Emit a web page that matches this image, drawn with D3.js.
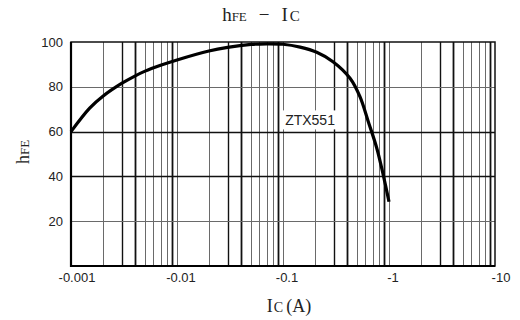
<!doctype html>
<html>
<head>
<meta charset="utf-8">
<style>
  body { margin: 0; background: #fff; }
  svg { display: block; }
</style>
</head>
<body>
<div class="chart"></div>
<script src="https://d3js.org/d3.v7.min.js"></script>
<script>
// curve (Ic in A, magnitude; hFE)
let icValues  = [0.001, 0.0015, 0.002, 0.003, 0.004, 0.005, 0.007, 0.01, 0.02, 0.03, 0.05, 0.07, 0.1, 0.145, 0.208, 0.296, 0.429, 0.532, 0.638, 0.766, 0.883, 1.0];
let hfeValues = [60, 70.5, 75.8, 81.5, 84.8, 87.0, 89.6, 92, 96, 97.6, 98.9, 99.2, 99.0, 97.7, 95.4, 91.2, 83.8, 75.6, 64.4, 52.7, 40.6, 28.7];

let xTicks = [0.001, 0.01, 0.1, 1, 10];
let xTickLabels = ["-0.001", "-0.01", "-0.1", "-1", "-10"];
let yTicks = [20, 40, 60, 80, 100];
let seriesName = "ZTX551";

let width = 520, height = 320;
let pLeft = 71, pRight = 495, pTop = 42, pBottom = 266;

let svg = d3.select(".chart").append("svg")
  .attr("width", width)
  .attr("height", height);

let x = d3.scaleLog().domain([0.001, 10]).range([pLeft, pRight]);
let y = d3.scaleLinear().domain([0, 100]).range([pBottom, pTop]);

// log grid, 1..9 in every decade
let gridX = [];
for (let e = -3; e < 1; e++) {
  for (let m = 2; m <= 9; m++) gridX.push({ v: m * Math.pow(10, e), m: m });
  gridX.push({ v: Math.pow(10, e + 1), m: 10 });
}
gridX = gridX.filter(d => d.v < 10);

svg.append("g").selectAll("line")
  .data(gridX).enter().append("line")
  .attr("x1", d => Math.round(x(d.v)) + 0.5)
  .attr("x2", d => Math.round(x(d.v)) + 0.5)
  .attr("y1", pTop).attr("y2", pBottom)
  .attr("stroke", d => (d.m == 3 || d.m == 4 || d.m == 9) ? "#111" : "#6a6a6a")
  .attr("stroke-width", d => (d.m == 4 || d.m == 9) ? 1.8 : (d.m == 3 ? 1.4 : 1));

svg.append("g").selectAll("line")
  .data(yTicks.filter(v => v < 100)).enter().append("line")
  .attr("x1", pLeft).attr("x2", pRight)
  .attr("y1", d => Math.round(y(d)) + 0.5)
  .attr("y2", d => Math.round(y(d)) + 0.5)
  .attr("stroke", d => (d == 40 || d == 60) ? "#111" : "#6a6a6a")
  .attr("stroke-width", d => (d == 40 || d == 60) ? 1.4 : 1);

// frame
svg.append("rect")
  .attr("x", pLeft).attr("y", pTop)
  .attr("width", pRight - pLeft).attr("height", pBottom - pTop)
  .attr("fill", "none").attr("stroke", "#111").attr("stroke-width", 1.5);
svg.append("line")
  .attr("x1", pLeft).attr("x2", pLeft).attr("y1", pTop).attr("y2", pBottom + 1)
  .attr("stroke", "#000").attr("stroke-width", 2.2);
svg.append("line")
  .attr("x1", pLeft).attr("x2", pRight).attr("y1", pBottom).attr("y2", pBottom)
  .attr("stroke", "#000").attr("stroke-width", 2.2);

// tick labels
let tickFont = "'Liberation Sans', Arial, sans-serif";
svg.append("g").selectAll("text")
  .data(yTicks).enter().append("text")
  .attr("x", pLeft - 8)
  .attr("y", d => y(d) + 4.5)
  .attr("text-anchor", "end")
  .style("font-family", tickFont).style("font-size", "13px").attr("fill", "#222")
  .text(d => d);

svg.append("g").selectAll("text")
  .data(xTicks).enter().append("text")
  .attr("x", (d, i) => x(d) + (i == 0 ? 6 : (i == 4 ? 6 : 4)))
  .attr("y", 282)
  .attr("text-anchor", "middle")
  .style("font-family", tickFont).style("font-size", "13px").attr("fill", "#222")
  .text((d, i) => xTickLabels[i]);

// curve
let line = d3.line()
  .x((d, i) => x(icValues[i]))
  .y(d => y(d))
  .curve(d3.curveCatmullRom.alpha(0.5));

svg.append("path")
  .attr("d", line(hfeValues))
  .attr("fill", "none")
  .attr("stroke", "#000")
  .attr("stroke-width", 3.2)
  .attr("stroke-linecap", "butt");

// series label on white patch
let lx = x(0.18), ly = y(65);
svg.append("rect")
  .attr("x", lx - 30).attr("y", ly - 10)
  .attr("width", 60).attr("height", 19)
  .attr("fill", "#fff");
svg.append("text")
  .attr("x", lx).attr("y", ly + 5)
  .attr("text-anchor", "middle")
  .style("font-family", tickFont).style("font-size", "14px").attr("fill", "#222")
  .text(seriesName);

// titles (serif, small-caps subscripts)
let serif = "'Liberation Serif', 'DejaVu Serif', serif";
let title = svg.append("text")
  .attr("x", 261).attr("y", 21)
  .attr("text-anchor", "middle")
  .style("font-family", serif).style("font-size", "19px").attr("fill", "#222");
title.append("tspan").text("h");
title.append("tspan").style("font-size", "13px").text("FE");
title.append("tspan").attr("dx", 12).text("−");
title.append("tspan").attr("dx", 12).text("I");
title.append("tspan").attr("dx", 2).style("font-size", "15px").text("C");

let xl = svg.append("text")
  .attr("x", 289).attr("y", 312)
  .attr("text-anchor", "middle")
  .style("font-family", serif).style("font-size", "18px").attr("fill", "#222");
xl.append("tspan").text("I");
xl.append("tspan").attr("dx", 1).style("font-size", "14px").text("C");
xl.append("tspan").attr("dx", 3).text("(A)");

let yl = svg.append("text")
  .attr("transform", "translate(29,152) rotate(-90)")
  .attr("text-anchor", "middle")
  .style("font-family", serif).style("font-size", "18px").attr("fill", "#222");
yl.append("tspan").text("h");
yl.append("tspan").style("font-size", "13px").text("FE");
</script>
</body>
</html>
